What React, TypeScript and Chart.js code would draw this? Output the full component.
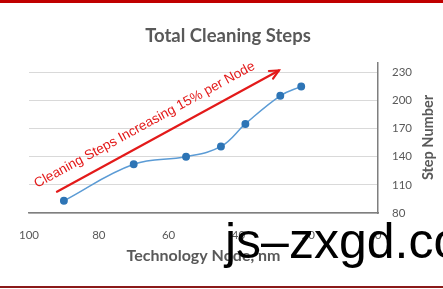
import React, { useEffect, useRef } from 'react';
import { Chart, registerables } from 'chart.js';
Chart.register(...registerables);

// Data
const nodes = [90, 70, 55, 45, 38, 28, 22];
const steps = [93, 132, 140, 151, 175, 205, 215];
const xTickValues = [0, 20, 40, 60, 80, 100];
const yTickValues = [80, 110, 140, 170, 200, 230];

// Text
const chartTitle = 'Total Cleaning Steps';
const xAxisTitle = 'Technology Node, nm';
const yAxisTitle = 'Step Number';
const trendText = 'Cleaning Steps Increasing 15% per Node';
const watermark = 'js–zxgd.co';

// Annotation anchors (data units)
const arrowStart = { x: 92, y: 102.7 };
const arrowEnd = { x: 28.4, y: 232 };
const trendTextAnchor = { x: 97.7, y: 106.6 };

const GRAY = '#595959';

const decorPlugin = {
  id: 'decor',
  afterDraw(chart: any) {
    const ctx = chart.ctx as CanvasRenderingContext2D;
    const xs = chart.scales.x;
    const ys = chart.scales.y;
    const area = chart.chartArea;
    ctx.save();
    // Title
    ctx.fillStyle = GRAY;
    ctx.font = 'bold 18.5px Lato';
    ctx.textAlign = 'center';
    ctx.textBaseline = 'alphabetic';
    ctx.fillText(chartTitle, area.left + 199, 41.5);

    // Y axis title (reads bottom-to-top)
    ctx.save();
    ctx.translate(433, 137.5);
    ctx.rotate(-Math.PI / 2);
    ctx.font = 'bold 14.5px Lato';
    ctx.textAlign = 'center';
    ctx.textBaseline = 'alphabetic';
    ctx.fillText(yAxisTitle, 0, 0);
    ctx.restore();

    // Arrow
    const x0 = xs.getPixelForValue(arrowStart.x);
    const y0 = ys.getPixelForValue(arrowStart.y);
    const x1 = xs.getPixelForValue(arrowEnd.x);
    const y1 = ys.getPixelForValue(arrowEnd.y);
    const ang = Math.atan2(y1 - y0, x1 - x0);
    ctx.strokeStyle = '#e31a1a';
    ctx.lineWidth = 2.2;
    ctx.lineCap = 'round';
    ctx.beginPath();
    ctx.moveTo(x0, y0);
    ctx.lineTo(x1, y1);
    ctx.stroke();
    const head = 10;
    ctx.beginPath();
    ctx.moveTo(x1 - head * Math.cos(ang - 0.45), y1 - head * Math.sin(ang - 0.45));
    ctx.lineTo(x1, y1);
    ctx.lineTo(x1 - head * Math.cos(ang + 0.45), y1 - head * Math.sin(ang + 0.45));
    ctx.stroke();

    // Trend text
    const tx = xs.getPixelForValue(trendTextAnchor.x);
    const ty = ys.getPixelForValue(trendTextAnchor.y);
    ctx.save();
    ctx.translate(tx, ty);
    ctx.rotate(ang);
    ctx.fillStyle = '#e31a1a';
    ctx.font = '13.6px "Liberation Sans"';
    ctx.textAlign = 'left';
    ctx.textBaseline = 'alphabetic';
    ctx.fillText(trendText, 0, 0);
    ctx.restore();

    ctx.restore();
  },
};

export default function App() {
  const ref = useRef<HTMLCanvasElement>(null);
  useEffect(() => {
    if (!ref.current) return;
    const chart = new Chart(ref.current, {
      type: 'line',
      data: {
        datasets: [
          {
            data: nodes.map((n, i) => ({ x: n, y: steps[i] })),
            borderColor: '#5b9bd5',
            borderWidth: 1.5,
            pointBackgroundColor: '#2e75b6',
            pointBorderColor: '#2e75b6',
            pointRadius: 3.2,
            tension: 0.4,
            fill: false,
          },
        ],
      },
      options: {
        animation: false,
        responsive: false,
        layout: { padding: { top: 63, left: 29, right: 0, bottom: 0 } },
        plugins: { legend: { display: false }, tooltip: { enabled: false }, title: { display: false } },
        scales: {
          x: {
            type: 'linear',
            reverse: true,
            min: 0,
            max: 100,
            afterBuildTicks: (axis: any) => {
              axis.ticks = xTickValues.map((v) => ({ value: v }));
            },
            afterFit: (s: any) => {
              s.height = 76;
            },
            grid: { display: false, drawTicks: false },
            border: { display: true, color: '#7f7f7f', width: 1.5 },
            ticks: { color: GRAY, font: { family: 'Lato', size: 11.5 }, padding: 15, maxRotation: 0 },
            title: {
              display: true,
              text: xAxisTitle,
              color: GRAY,
              font: { family: 'Lato', size: 16, weight: 'bold' },
              padding: { top: 0, bottom: 24 },
            },
          },
          y: {
            type: 'linear',
            position: 'right',
            min: 80,
            max: 240,
            afterBuildTicks: (axis: any) => {
              axis.ticks = yTickValues.map((v) => ({ value: v }));
            },
            afterFit: (s: any) => {
              s.width = 65;
            },
            grid: { color: '#d9d9d9', lineWidth: 1, drawTicks: false },
            border: { display: true, color: '#7f7f7f', width: 1.5 },
            ticks: { color: GRAY, font: { family: 'Lato', size: 11.5 }, padding: 14 },
          },
        },
      },
      plugins: [decorPlugin],
    });
    return () => chart.destroy();
  }, []);

  return (
    <div style={{ position: 'fixed', left: 0, top: 0, width: 443, height: 289, background: '#fff', overflow: 'hidden' }}>
      <div style={{ position: 'absolute', left: 0, top: 0, width: 443, height: 3, background: '#c00000' }} />
      <div style={{ position: 'absolute', left: 0, top: 286, width: 443, height: 1.5, background: '#8b1a1a' }} />
      <canvas ref={ref} width={443} height={289} style={{ display: 'block', position: 'absolute', left: 0, top: 0 }} />
      <div
        style={{
          position: 'absolute',
          left: 225,
          top: 211,
          fontFamily: '"Liberation Sans"',
          fontSize: 50,
          lineHeight: '60px',
          color: '#000',
          whiteSpace: 'nowrap',
        }}
      >
        {watermark}
      </div>
    </div>
  );
}
